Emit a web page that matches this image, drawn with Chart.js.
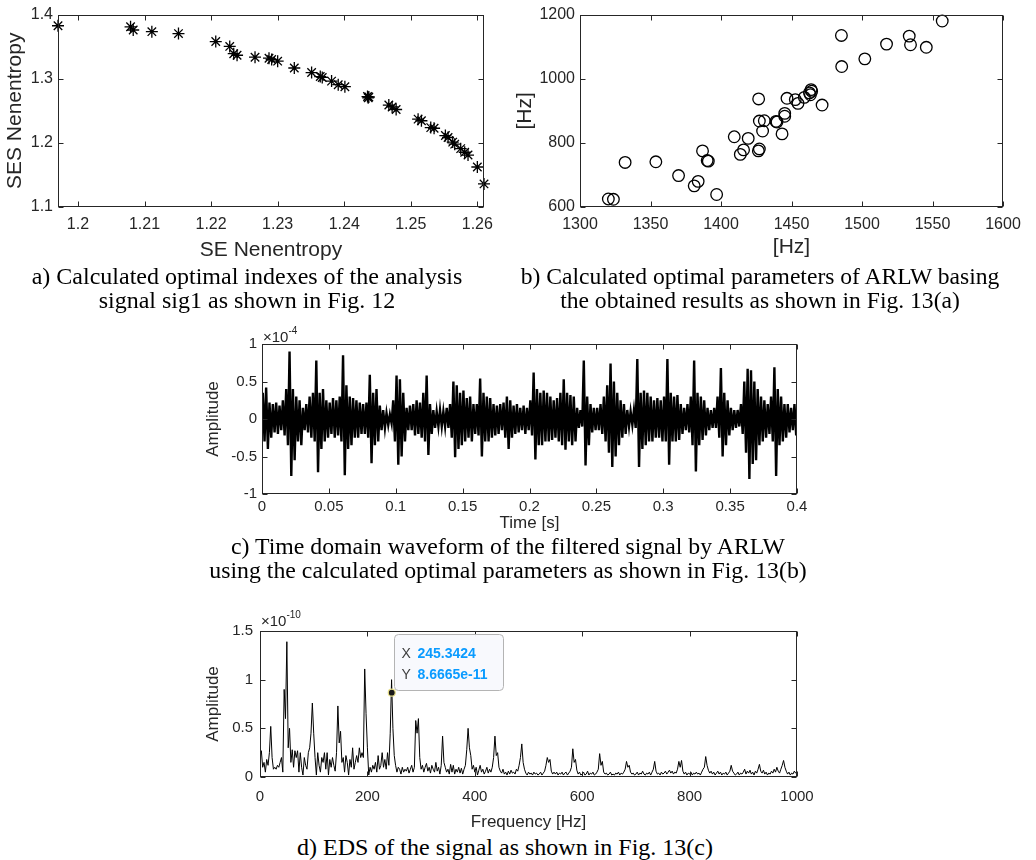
<!DOCTYPE html>
<html><head><meta charset="utf-8">
<script src="https://cdn.jsdelivr.net/npm/chart.js@4/dist/chart.umd.min.js"></script>
<style>
html,body{margin:0;padding:0;background:#fff;}
#root{position:relative;width:1036px;height:860px;overflow:hidden;background:#fff;}
canvas{position:absolute;}
.cap{position:absolute;width:700px;font-family:"Liberation Serif","Times New Roman",serif;font-size:24px;color:#000;text-align:center;line-height:24px;white-space:nowrap;}
.exp{position:absolute;font-family:"Liberation Sans",Arial,sans-serif;font-size:15px;color:#262626;line-height:15px;}
.exp sup{font-size:10px;position:relative;top:-2px;}
</style></head>
<body><div id="root">
<canvas id="ca" width="510" height="265" style="left:0px;top:0px"></canvas>
<canvas id="cb" width="523" height="265" style="left:510px;top:0px"></canvas>
<canvas id="cc" width="632" height="204" style="left:200px;top:330px"></canvas>
<canvas id="cd" width="632" height="218" style="left:200px;top:615px"></canvas>
<div class="cap" style="left:-103px;top:264px">a) Calculated optimal indexes of the analysis<br>signal sig1 as shown in Fig. 12</div>
<div class="cap" style="left:410px;top:264px;font-size:23.6px">b) Calculated optimal parameters of ARLW basing<br>the obtained results as shown in Fig. 13(a)</div>
<div class="cap" style="left:158px;top:534px;font-size:23.8px">c) Time domain waveform of the filtered signal by ARLW<br>using the calculated optimal parameters as shown in Fig. 13(b)</div>
<div class="cap" style="left:155px;top:835px">d) EDS of the signal as shown in Fig. 13(c)</div>
<div class="exp" style="left:263px;top:325px">×10<sup>-4</sup></div>
<div class="exp" style="left:261px;top:609px">×10<sup>-10</sup></div>
</div>
<script>
// ---------- Panel a: SE vs SES Nenentropy ----------
const aSE  = [1.1970,1.2079,1.2083,1.2111,1.2151,1.2207,1.2228,1.2234,1.2239,1.2266,
              1.2287,1.2291,1.2300,1.2325,1.2351,1.2364,1.2367,1.2381,1.2391,1.2401,
              1.2435,1.2436,1.2437,1.2467,1.2472,1.2478,1.2511,1.2516,1.2530,1.2535,
              1.2552,1.2556,1.2563,1.2566,1.2575,1.2581,1.2586,1.2600,1.2610,1.2611];
const aSES = [1.3826,1.3810,1.3760,1.3734,1.3704,1.3580,1.3504,1.3390,1.3366,1.3336,
              1.3320,1.3300,1.3274,1.3167,1.3096,1.3034,1.3020,1.2963,1.2907,1.2876,
              1.2722,1.2702,1.2715,1.2590,1.2560,1.2520,1.2370,1.2345,1.2238,1.2228,
              1.2114,1.2084,1.2012,1.1980,1.1910,1.1854,1.1810,1.1624,1.1360,1.1340];
const aXTicks = [1.2,1.21,1.22,1.23,1.24,1.25,1.26];
const aYTicks = [1.1,1.2,1.3,1.4];

// ---------- Panel b: optimal ARLW parameters [Hz] ----------
const bX = [1320.1,1323.7,1332.0,1353.8,1369.9,1381.0,1383.8,1386.9,1390.2,1391.0,
            1396.9,1409.4,1413.7,1416.0,1419.3,1426.5,1427.2,1426.7,1427.2,1429.5,
            1430.7,1439.0,1439.7,1443.3,1445.2,1445.2,1446.8,1452.7,1454.6,1459.1,
            1462.7,1463.9,1464.3,1463.4,1471.7,1485.4,1485.6,1502.0,1517.4,1533.5,
            1534.4,1545.6,1556.9];
const bY = [625,624,739,741,698,666,680,775,745,743,
            639,819,764,778,814,775,781,937,868,837,
            869,867,865,828,892,883,939,935,923,942,
            956,966,961,950,918,1135,1038,1062,1108,1133,
            1106,1098,1180];
const bXTicks = [1300,1350,1400,1450,1500,1550,1600];
const bYTicks = [600,800,1000,1200];

// ---------- Panel c: filtered waveform (x1e-4), envelope per 2.5 ms bin ----------
const waveBinWidth = 0.0025; // s
const waveHi = [.35,.42,.22,.20,.22,.18,.25,.40,.90,.40, .30,.25,.15,.20,.30,.35,.78,.35,.40,.25,
                .22,.28,.25,.30,.85,.45,.30,.28,.25,.22, .20,.22,.59,.35,.40,.18,.12,.08,.06,.25,
                .58,.53,.35,.15,.18,.20,.25,.22,.35,.58, .20,.12,.10,.12,.10,.15,.20,.50,.45,.35,
                .38,.28,.30,.20,.20,.54,.35,.30,.28,.20, .18,.20,.22,.30,.25,.18,.20,.15,.18,.15,
                .25,.62,.40,.35,.38,.35,.30,.25,.28,.35, .53,.35,.32,.30,.15,.12,.78,.30,.20,.15,
                .15,.20,.30,.45,.74,.50,.35,.25,.20,.12, .10,.12,.80,.35,.38,.35,.30,.25,.28,.25,
                .30,.80,.35,.30,.32,.20,.15,.20,.30,.78, .35,.30,.25,.15,.12,.15,.30,.68,.35,.25,
                .15,.12,.12,.20,.50,.67,.65,.50,.40,.30, .25,.20,.30,.69,.40,.30,.20,.20,.15,.20];
const waveLo = [-.30,-.40,-.25,-.18,-.20,-.15,-.22,-.35,-.76,-.55, -.30,-.35,-.15,-.18,-.25,-.30,-.71,-.40,-.30,-.25,
                -.20,-.25,-.22,-.30,-.75,-.40,-.35,-.25,-.25,-.20, -.20,-.25,-.59,-.35,-.30,-.15,-.12,-.08,-.06,-.30,
                -.61,-.50,-.30,-.15,-.15,-.22,-.20,-.25,-.30,-.48, -.20,-.12,-.10,-.10,-.10,-.12,-.25,-.51,-.40,-.35,
                -.30,-.25,-.30,-.20,-.22,-.50,-.30,-.30,-.25,-.22, -.20,-.15,-.25,-.40,-.25,-.20,-.18,-.15,-.20,-.15,
                -.22,-.54,-.35,-.35,-.30,-.30,-.28,-.25,-.30,-.35, -.41,-.30,-.35,-.30,-.12,-.10,-.62,-.35,-.18,-.15,
                -.15,-.20,-.30,-.45,-.64,-.50,-.35,-.25,-.20,-.10, -.08,-.12,-.64,-.40,-.35,-.30,-.30,-.25,-.25,-.30,
                -.30,-.61,-.30,-.30,-.28,-.20,-.15,-.18,-.35,-.70, -.35,-.28,-.22,-.15,-.12,-.12,-.25,-.50,-.35,-.22,
                -.15,-.12,-.10,-.20,-.45,-.80,-.60,-.55,-.35,-.30, -.25,-.20,-.30,-.76,-.35,-.30,-.25,-.18,-.15,-.22];
const cXTicks = [0,0.05,0.1,0.15,0.2,0.25,0.3,0.35,0.4];
const cYTicks = [-1,-0.5,0,0.5,1];

// ---------- Panel d: envelope spectrum (x1e-10), 2.5 Hz resolution ----------
const edsStep = 2.5; // Hz
const eds = [.20,.27,.10,.15,.05,.18,.12,.25,.52,.20,.08,.10,.08,.12,.10,.15,.20,.05,.90,.60,
             1.39,.30,.50,.15,.28,.10,.27,.20,.27,.05,.25,.10,.02,.20,.12,.08,.25,.30,.45,.76,
             .45,.20,.02,.25,.12,.05,.20,.15,.25,.08,.25,.02,.18,.10,.20,.12,.06,.25,.73,.35,
             .47,.15,.20,.05,.22,.15,.02,.18,.10,.30,.08,.15,.22,.15,.30,.20,.25,.20,1.11,.65,
             .30,.02,.10,.05,.12,.08,.15,.05,.22,.08,.12,.25,.10,.18,.08,.25,.12,.45,1.00,.50,
             .22,.12,.05,.10,.08,.03,.10,.05,.08,.06,.10,.04,.08,.12,.05,.10,.58,.45,.60,.20,
             .08,.12,.05,.10,.14,.06,.10,.04,.12,.08,.05,.15,.06,.10,.03,.12,.42,.15,.10,.05,
             .08,.03,.13,.05,.12,.03,.08,.05,.10,.04,.09,.03,.08,.12,.28,.50,.30,.22,.08,.12,
             .05,.10,.02,.07,.12,.05,.08,.03,.06,.10,.04,.08,.05,.10,.20,.42,.22,.25,.10,.06,
             .04,.08,.03,.05,.02,.06,.03,.07,.04,.05,.03,.08,.06,.12,.20,.34,.15,.08,.04,.02,
             .05,.03,.04,.02,.05,.03,.04,.02,.03,.05,.02,.04,.06,.12,.20,.15,.18,.06,.03,.05,
             .03,.05,.02,.04,.03,.05,.02,.04,.05,.02,.04,.06,.10,.29,.15,.18,.07,.03,.05,.02,
             .03,.05,.02,.03,.06,.02,.04,.03,.05,.02,.03,.05,.08,.24,.12,.16,.05,.03,.04,.02,
             .03,.05,.02,.03,.02,.04,.03,.05,.02,.04,.03,.05,.08,.16,.10,.12,.05,.03,.04,.02,
             .03,.05,.02,.04,.03,.06,.03,.02,.04,.03,.05,.02,.05,.08,.16,.06,.03,.04,.02,.05,
             .03,.04,.06,.03,.05,.07,.04,.06,.03,.05,.04,.08,.16,.10,.17,.06,.03,.05,.02,.04,
             .03,.05,.02,.04,.03,.05,.03,.04,.02,.05,.08,.10,.21,.12,.07,.04,.06,.03,.05,.02,
             .04,.06,.03,.05,.02,.04,.03,.05,.02,.04,.06,.12,.06,.04,.02,.03,.05,.02,.04,.03,
             .05,.08,.03,.06,.04,.07,.03,.05,.02,.06,.04,.08,.13,.06,.04,.07,.03,.05,.02,.04,
             .03,.06,.04,.08,.05,.10,.06,.04,.08,.12,.17,.10,.06,.03,.05,.02,.04,.03,.06,.04,.03];
const dXTicks = [0,200,400,600,800,1000];
const dYTicks = [0,0.5,1,1.5];
const tipX = 245.3424, tipY = 0.86665;       // data tip (Y in x1e-10)
const tipXText = '245.3424', tipYText = '8.6665e-11';

// ---------- common styling ----------
const SANS = '"Liberation Sans", Arial, sans-serif';
const INK = '#262626';
Chart.defaults.animation = false;
Chart.defaults.font.family = SANS;

function fmt(v){ return String(Math.round(v*10000)/10000); }

function axis(o){
  return {
    type:'linear', min:o.min, max:o.max,
    grid:{display:false, drawTicks:false},
    border:{display:false},
    ticks:{font:{family:SANS,size:o.tickSize}, color:INK, padding:o.tickPad, maxRotation:0, autoSkip:false, callback:v=>fmt(v)},
    afterBuildTicks:s=>{ s.ticks = o.ticks.map(v=>({value:v})); },
    afterFit:s=>{ if(o.vertical) s.width=o.size; else s.height=o.size; },
    title:{display:true, text:o.title, color:INK, font:{family:SANS,size:o.titleSize},
           padding:{top:o.titlePad,bottom:o.titlePad}}
  };
}

const framePlugin = {
  id:'frame',
  afterDatasetsDraw(chart){
    const {ctx, chartArea:a, scales:{x,y}} = chart;
    const L=Math.round(a.left)+0.5, R=Math.round(a.right)-0.5, T=Math.round(a.top)+0.5, B=Math.round(a.bottom)-0.5;
    const tl = 5;
    ctx.save();
    ctx.strokeStyle = INK; ctx.lineWidth = 1;
    ctx.beginPath();
    x.ticks.forEach(t=>{ const px=Math.round(x.getPixelForValue(t.value))+0.5;
      ctx.moveTo(px,B); ctx.lineTo(px,B-tl); ctx.moveTo(px,T); ctx.lineTo(px,T+tl); });
    y.ticks.forEach(t=>{ const py=Math.round(y.getPixelForValue(t.value))+0.5;
      ctx.moveTo(L,py); ctx.lineTo(L+tl,py); ctx.moveTo(R,py); ctx.lineTo(R-tl,py); });
    ctx.stroke();
    ctx.strokeRect(L,T,R-L,B-T);
    ctx.restore();
  }
};

const tipPlugin = {
  id:'tip',
  afterDraw(chart){
    const {ctx, scales:{x,y}} = chart;
    const px = x.getPixelForValue(tipX), py = y.getPixelForValue(tipY);
    const bx = Math.round(px)+2.5, by = Math.round(py)-58.5, bw = 109, bh = 56, r = 4;
    ctx.save();
    ctx.beginPath();
    ctx.moveTo(bx+r,by); ctx.lineTo(bx+bw-r,by); ctx.arcTo(bx+bw,by,bx+bw,by+r,r);
    ctx.lineTo(bx+bw,by+bh-r); ctx.arcTo(bx+bw,by+bh,bx+bw-r,by+bh,r);
    ctx.lineTo(bx+r,by+bh); ctx.arcTo(bx,by+bh,bx,by+bh-r,r);
    ctx.lineTo(bx,by+r); ctx.arcTo(bx,by,bx+r,by,r); ctx.closePath();
    ctx.fillStyle = 'rgba(248,249,253,0.96)'; ctx.fill();
    ctx.strokeStyle = '#b4b4b4'; ctx.lineWidth = 1; ctx.stroke();
    ctx.textBaseline = 'middle';
    ctx.font = '14px '+SANS; ctx.fillStyle = '#404040';
    ctx.fillText('X', bx+7, by+20); ctx.fillText('Y', bx+7, by+41);
    ctx.font = 'bold 14px '+SANS; ctx.fillStyle = '#0a9bff';
    ctx.fillText(tipXText, bx+23, by+20); ctx.fillText(tipYText, bx+23, by+41);
    ctx.restore();
  }
};

function baseOpts(pad, xAxis, yAxis){
  return {
    responsive:false, animation:false, devicePixelRatio:1,
    layout:{padding:pad},
    plugins:{legend:{display:false}, tooltip:{enabled:false}},
    scales:{x:xAxis, y:yAxis},
    elements:{line:{tension:0}}
  };
}

// Panel a
new Chart(document.getElementById('ca'), {
  type:'scatter',
  data:{datasets:[{data:aSE.map((v,i)=>({x:v,y:aSES[i]})), pointStyle:'star', pointRadius:6,
        borderColor:'#000', borderWidth:1.3, backgroundColor:'#000', clip:false}]},
  options:baseOpts({top:10,right:26,left:0,bottom:0},
    axis({min:1.197,max:1.261,ticks:aXTicks,tickSize:16,tickPad:8,size:58,title:'SE Nenentropy',titleSize:21,titlePad:2.4}),
    axis({min:1.1,max:1.4,ticks:aYTicks,tickSize:16,tickPad:5,size:58,title:'SES Nenentropy',titleSize:21,titlePad:2.4,vertical:true})),
  plugins:[framePlugin]
});

// Panel b
new Chart(document.getElementById('cb'), {
  type:'scatter',
  data:{datasets:[{data:bX.map((v,i)=>({x:v,y:bY[i]})), pointStyle:'circle', pointRadius:5.8,
        borderColor:'#000', borderWidth:1.3, backgroundColor:'rgba(0,0,0,0)', clip:false}]},
  options:baseOpts({top:9,right:30,left:0,bottom:0},
    axis({min:1300,max:1600,ticks:bXTicks,tickSize:16,tickPad:8,size:58,title:'[Hz]',titleSize:21,titlePad:5.4}),
    axis({min:600,max:1200,ticks:bYTicks,tickSize:16,tickPad:5,size:70,title:'[Hz]',titleSize:21,titlePad:2.4,vertical:true})),
  plugins:[framePlugin]
});

// Panel c
const wavePts = [];
waveHi.forEach((h,i)=>{
  wavePts.push({x:i*waveBinWidth+0.0006, y:h});
  wavePts.push({x:i*waveBinWidth+0.0019, y:waveLo[i]});
});
new Chart(document.getElementById('cc'), {
  type:'line',
  data:{datasets:[{data:wavePts, borderColor:'#000', borderWidth:2.4, pointRadius:0, fill:false}]},
  options:baseOpts({top:13,right:35,left:0,bottom:0},
    axis({min:0,max:0.4,ticks:cXTicks,tickSize:15,tickPad:4,size:40,title:'Time [s]',titleSize:17,titlePad:0.5}),
    axis({min:-1,max:1,ticks:cYTicks,tickSize:15,tickPad:5,size:62,title:'Amplitude',titleSize:17,titlePad:2.8,vertical:true})),
  plugins:[framePlugin]
});

// Panel d
new Chart(document.getElementById('cd'), {
  type:'line',
  data:{datasets:[
    {data:[{x:tipX,y:tipY}], showLine:false, pointRadius:3.5, pointBackgroundColor:'#1a1a1a',
     pointBorderColor:'#e8e08a', pointBorderWidth:1.2},
    {data:eds.map((v,i)=>({x:i*edsStep,y:v})), borderColor:'#000', borderWidth:1, pointRadius:0, fill:false}
  ]},
  options:baseOpts({top:13,right:35,left:0,bottom:0},
    axis({min:0,max:1000,ticks:dXTicks,tickSize:15,tickPad:11,size:56,title:'Frequency [Hz]',titleSize:17,titlePad:0.5}),
    axis({min:0,max:1.5,ticks:dYTicks,tickSize:15,tickPad:7,size:60,title:'Amplitude',titleSize:17,titlePad:2.8,vertical:true})),
  plugins:[framePlugin, tipPlugin]
});
</script>
</body></html>
